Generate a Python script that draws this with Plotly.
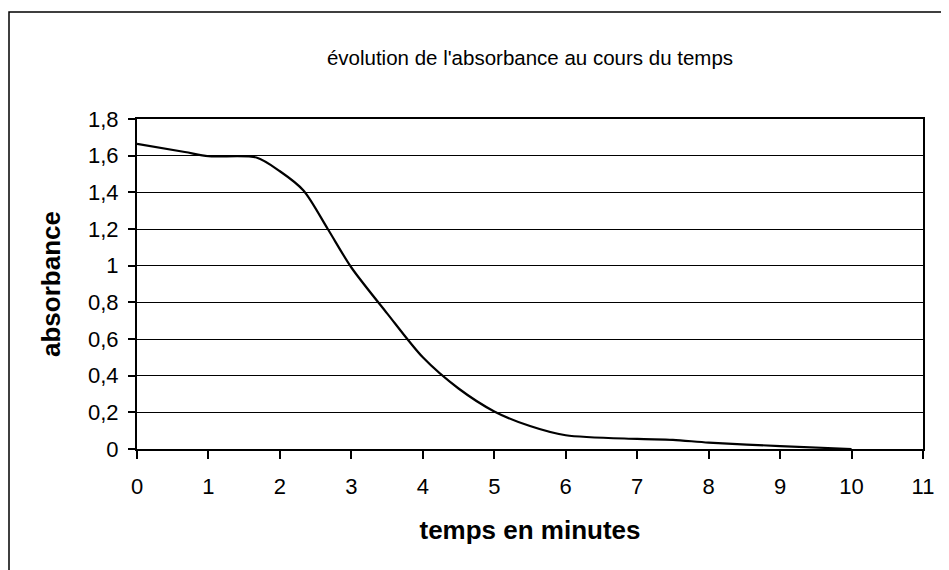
import plotly.graph_objects as go

# Data
temps_min = [0, 0.67, 1, 1.67, 2, 2.33, 2.67, 3, 3.5, 4, 4.5, 5, 5.5, 6, 7, 7.5, 8, 9, 10]
absorbance = [1.664, 1.62, 1.597, 1.59, 1.515, 1.41, 1.20, 0.99, 0.74, 0.50, 0.33, 0.205,
              0.125, 0.075, 0.055, 0.05, 0.035, 0.016, 0.0]

x_ticks = list(range(0, 12))
y_ticks = [0, 0.2, 0.4, 0.6, 0.8, 1.0, 1.2, 1.4, 1.6, 1.8]

title_text = "évolution de l'absorbance au cours du temps"
x_title = "temps en minutes"
y_title = "absorbance"

# The page has an 8px body margin, so the figure is drawn 8px in from the window edge
OFF = 8
W, H = 949 - OFF, 570 - OFF
ML, MR, MT, MB = 137 - OFF, 26, 119 - OFF, 121
FONT = "Arial, 'Liberation Sans', sans-serif"

fig = go.Figure()
fig.add_trace(go.Scatter(
    x=temps_min, y=absorbance, mode="lines",
    line=dict(color="black", width=2.2, shape="spline", smoothing=0.8),
    showlegend=False, hoverinfo="skip",
))

pw, ph = W - ML - MR, H - MT - MB
def px_to_paper_x(px):
    return (px - OFF - ML) / pw
def px_to_paper_y(py):
    return (H - MB - (py - OFF)) / ph

# outer chart frame (left and top edges visible, rest cut off)
fig.add_shape(type="rect", xref="paper", yref="paper",
              x0=px_to_paper_x(9), x1=px_to_paper_x(949 + 20),
              y0=px_to_paper_y(570 + 20), y1=px_to_paper_y(12),
              line=dict(color="black", width=1.5), fillcolor="rgba(0,0,0,0)", layer="below")

fig.update_layout(
    width=W, height=H, autosize=False,
    margin=dict(l=ML, r=MR, t=MT, b=MB, pad=0),
    paper_bgcolor="white", plot_bgcolor="white",
    separators=", ",
    font=dict(family=FONT, color="black", size=20),
    title=dict(text=title_text, x=(ML + pw / 2) / W, xanchor="center", xref="container",
               y=1 - (58 - OFF) / H, yanchor="middle", yref="container",
               font=dict(size=20.5, color="black", family=FONT)),
    xaxis=dict(
        range=[0, 11], tickmode="array", tickvals=x_ticks,
        showgrid=False, zeroline=False,
        showline=True, linecolor="black", linewidth=2, mirror=True,
        ticks="outside", ticklen=8, tickwidth=1.5, tickcolor="black",
        ticklabelstandoff=9,
        tickfont=dict(size=22, family=FONT, color="black"),
        title=dict(text="<b>" + x_title + "</b>", standoff=22,
                   font=dict(size=26, family=FONT, color="black")),
        automargin=False,
    ),
    yaxis=dict(
        range=[0, 1.8], tickmode="array", tickvals=y_ticks,
        showgrid=True, gridcolor="black", gridwidth=1.2,
        zeroline=False,
        showline=True, linecolor="black", linewidth=2, mirror=True,
        ticks="outside", ticklen=7, tickwidth=1.5, tickcolor="black",
        ticklabelstandoff=5,
        tickfont=dict(size=22, family=FONT, color="black"),
        title=dict(text="<b>" + y_title + "</b>", standoff=20,
                   font=dict(size=26, family=FONT, color="black")),
        automargin=False,
    ),
)

fig.write_html("out.html")
